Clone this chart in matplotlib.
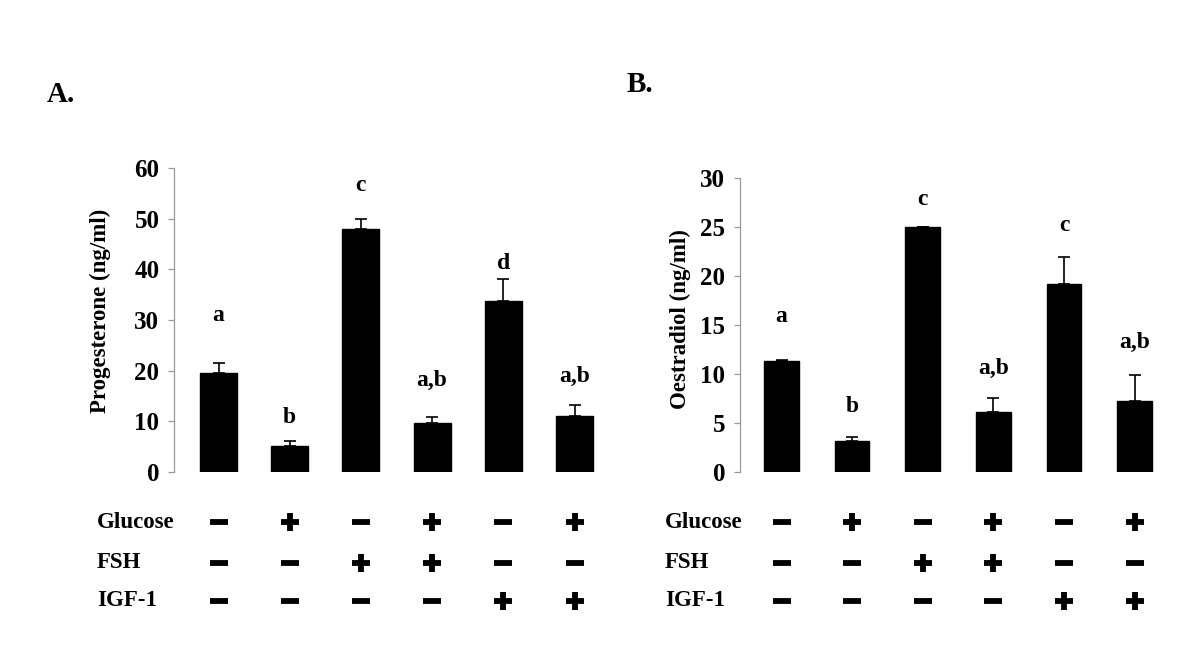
import matplotlib
matplotlib.use("Agg")
import matplotlib.pyplot as plt
import matplotlib.transforms as mtransforms
import numpy as np

# ---- data ----
groups = ["G1", "G2", "G3", "G4", "G5", "G6"]
glucose = [0, 1, 0, 1, 0, 1]
fsh = [0, 0, 1, 1, 0, 0]
igf1 = [0, 0, 0, 0, 1, 1]
factor_names = ["Glucose", "FSH", "IGF-1"]

prog_mean = [19.6, 5.2, 47.9, 9.7, 33.8, 11.1]
prog_sem = [2.0, 1.0, 2.1, 1.2, 4.2, 2.1]
prog_letters = ["a", "b", "c", "a,b", "d", "a,b"]
prog_letter_y = [30.9, 10.7, 56.5, 18.1, 41.2, 18.8]
prog_ticks = [0, 10, 20, 30, 40, 50, 60]

oest_mean = [11.4, 3.2, 25.0, 6.2, 19.2, 7.3]
oest_sem = [0.05, 0.37, 0.0, 1.4, 2.8, 2.6]
oest_letters = ["a", "b", "c", "a,b", "c", "a,b"]
oest_letter_y = [15.9, 6.7, 27.8, 10.6, 25.2, 13.2]
oest_ticks = [0, 5, 10, 15, 20, 25, 30]

# ---- style ----
W, H = 1200, 672
plt.rcParams['font.family'] = ['Liberation Serif', 'DejaVu Serif']
plt.rcParams['font.weight'] = 'bold'
fig = plt.figure(figsize=(W / 100, H / 100), dpi=100)

def fx(px):
    return px / W

def fy(py):
    return 1 - py / H

row_py = [522, 563, 601]

def panel(left_px, right_px, top_px, bottom_px, xmin, xmax, width,
          means, sems, letters, letter_y, ticks, ylabel, ylabel_px, label_x_px,
          panel_letter, panel_xy):
    ax = fig.add_axes([fx(left_px), fy(bottom_px), fx(right_px - left_px),
                       (bottom_px - top_px) / H])
    x = np.arange(len(means))
    ax.bar(x, means, width=width, color='black', edgecolor='black', zorder=2)
    ax.errorbar(x, means, yerr=[np.zeros(len(sems)), sems], fmt='none',
                ecolor='black', elinewidth=1.2, capsize=4.5, capthick=1.2, zorder=3)
    for xi, lt, ly in zip(x, letters, letter_y):
        ax.text(xi, ly, lt, ha='center', va='center', fontsize=17,
                fontweight='bold', clip_on=False)
    ax.set_xlim(xmin, xmax)
    ax.set_ylim(ticks[0], ticks[-1])
    ax.set_yticks(ticks)
    ax.set_yticklabels([str(t) for t in ticks], fontsize=18, fontweight='bold')
    ax.set_xticks([])
    for s in ['top', 'right', 'bottom']:
        ax.spines[s].set_visible(False)
    ax.spines['left'].set_color('#9a9a9a')
    ax.spines['left'].set_linewidth(0.9)
    ax.tick_params(axis='y', direction='out', length=4.5, width=0.9,
                   color='#9a9a9a', pad=6)
    fig.text(fx(ylabel_px[0]), fy(ylabel_px[1]), ylabel, rotation=90,
             ha='center', va='center', fontsize=16.5, fontweight='bold')
    # treatment table
    trans = mtransforms.blended_transform_factory(ax.transData, fig.transFigure)
    for name, cond, py in zip(factor_names, [glucose, fsh, igf1], row_py):
        fig.text(fx(label_x_px), fy(py), name, ha='left', va='center',
                 fontsize=16.5, fontweight='bold')
        for xi, c in zip(x, cond):
            ax.plot([xi], [fy(py)], transform=trans, clip_on=False,
                    marker='+' if c else '_', markersize=12.5,
                    markeredgewidth=4.2, color='black', linestyle='none')
    fig.text(fx(panel_xy[0]), fy(panel_xy[1]), panel_letter, ha='left',
             va='center', fontsize=21, fontweight='bold')
    return ax

panel(174, 600, 168, 472, -0.625, 5.358, 0.52,
      prog_mean, prog_sem, prog_letters, prog_letter_y, prog_ticks,
      "Progesterone (ng/ml)", (100, 311), 97, "A.", (47, 94))

panel(740, 1165, 178.3, 472.3, -0.588, 5.43, 0.49,
      oest_mean, oest_sem, oest_letters, oest_letter_y, oest_ticks,
      "Oestradiol (ng/ml)", (680, 319), 665, "B.", (627, 85))

fig.savefig("out.png", dpi=100, facecolor='white')
